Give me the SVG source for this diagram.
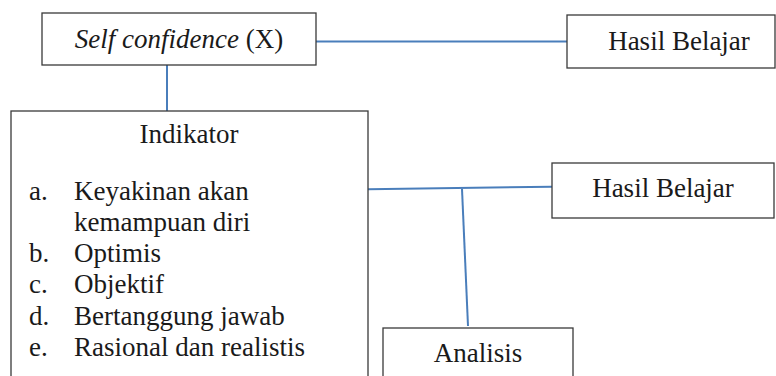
<svg xmlns="http://www.w3.org/2000/svg" width="776" height="376" viewBox="0 0 776 376">
<style>
.box{fill:#fff;stroke:#3a3a3a;stroke-width:1.3}
.t{font-family:'Liberation Serif','Times New Roman','DejaVu Serif',serif;font-size:27px;fill:#1a1a1a}
.c{text-anchor:middle}
.ln{stroke:#4a7ebb;stroke-width:2;fill:none}
</style>
<rect width="776" height="376" fill="#fff"/>
<g id="connectors">
<line class="ln" x1="316" y1="41.5" x2="567" y2="41.5"/>
<line class="ln" x1="167" y1="65" x2="167" y2="111"/>
<line class="ln" x1="368" y1="189.3" x2="552" y2="186.7"/>
<line class="ln" x1="462" y1="189" x2="468" y2="326"/>
</g>
<g id="self-confidence">
<rect class="box" x="42" y="13" width="274" height="52"/>
<text class="t c" x="179" y="48"><tspan font-style="italic">Self confidence </tspan>(X)</text>
</g>
<g id="hasil-belajar-1">
<rect class="box" x="567" y="15" width="208" height="53"/>
<text class="t c" x="679" y="50">Hasil Belajar</text>
</g>
<g id="indikator">
<rect class="box" x="11" y="111" width="357" height="290"/>
<text class="t c" x="189" y="143">Indikator</text>
<text class="t" x="29" y="200">a.</text><text class="t" x="74" y="200">Keyakinan akan</text>
<text class="t" x="74" y="231">kemampuan diri</text>
<text class="t" x="29" y="262">b.</text><text class="t" x="74" y="262">Optimis</text>
<text class="t" x="29" y="293">c.</text><text class="t" x="74" y="293">Objektif</text>
<text class="t" x="29" y="325">d.</text><text class="t" x="74" y="325">Bertanggung jawab</text>
<text class="t" x="29" y="356">e.</text><text class="t" x="74" y="356">Rasional dan realistis</text>
</g>
<g id="hasil-belajar-2">
<rect class="box" x="552" y="163" width="222" height="55"/>
<text class="t c" x="663" y="197">Hasil Belajar</text>
</g>
<g id="analisis">
<rect class="box" x="383" y="328" width="190" height="70"/>
<text class="t c" x="478" y="362">Analisis</text>
</g>
</svg>
